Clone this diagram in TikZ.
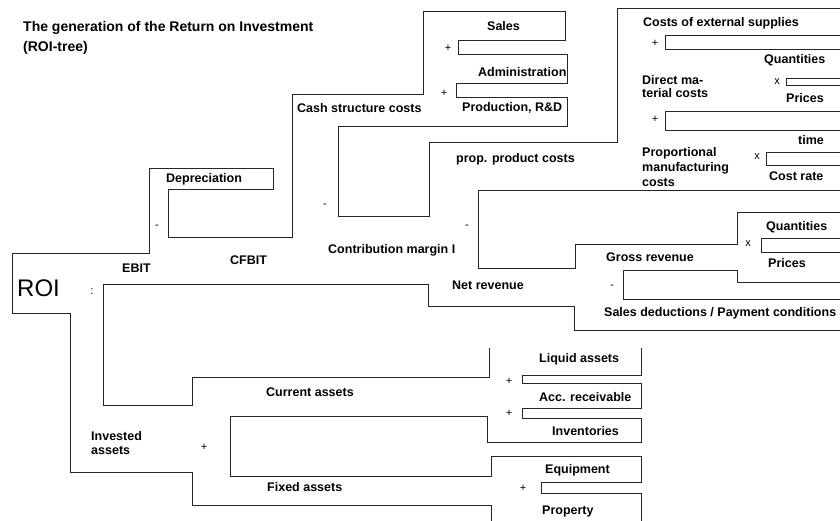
\documentclass[tikz,border=0pt]{standalone}
\usepackage{fontspec}
\setmainfont{Liberation Sans}
\begin{document}
\begin{tikzpicture}[x=1pt,y=-1pt,
  lab/.style={font=\fontsize{12.5}{14}\selectfont\bfseries, inner sep=0pt, anchor=west, text height=8.95pt, text depth=0pt},
  ttl/.style={font=\fontsize{14}{16}\selectfont\bfseries, inner sep=0pt, anchor=west, text height=10pt, text depth=0pt},
  opr/.style={font=\fontsize{11}{12}\selectfont, inner sep=0pt, anchor=center},
  tree/.style={line width=1pt, draw=black!85, line join=miter}]
\useasboundingbox (0,0) rectangle (840,520);
\clip (0,0) rectangle (840,520);
% tree outline
\draw[tree] (491,530) -- (491,505) -- (192,505) -- (192,472) -- (70,472) -- (70,313) -- (12,313) -- (12,253)
  -- (149,253) -- (149,168) -- (273,168) -- (273,189) -- (168,189) -- (168,237) -- (292,237) -- (292,94)
  -- (423,94) -- (423,11) -- (565,11) -- (565,40) -- (458,40) -- (458,54) -- (567,54) -- (567,83)
  -- (456,83) -- (456,97) -- (567,97) -- (567,126) -- (338,126) -- (338,216) -- (429,216) -- (429,142)
  -- (617,142) -- (617,8) -- (850,8) -- (850,35) -- (665,35) -- (665,49) -- (850,49)
  -- (850,78) -- (786,78) -- (786,85) -- (850,85)
  -- (850,111) -- (665,111) -- (665,130) -- (850,130)
  -- (850,152) -- (766,152) -- (766,165) -- (850,165)
  -- (850,190) -- (478,190) -- (478,268) -- (575,268) -- (575,244) -- (737,244) -- (737,212) -- (850,212)
  -- (850,238) -- (761,238) -- (761,252) -- (850,252)
  -- (850,282) -- (737,282) -- (737,270) -- (623,270) -- (623,299) -- (850,299)
  -- (850,330) -- (574,330) -- (574,306) -- (428,306) -- (428,284) -- (103,284) -- (103,405)
  -- (192,405) -- (192,377) -- (489,377) -- (489,348);
\draw[tree] (641,348) -- (641,375) -- (522,375) -- (522,383) -- (641,383) -- (641,408) -- (522,408)
  -- (522,418) -- (641,418) -- (641,442) -- (487,442) -- (487,416) -- (230,416) -- (230,476)
  -- (491,476) -- (491,456) -- (641,456) -- (641,482) -- (541,482) -- (541,493) -- (641,493) -- (641,530);
% title
\node[ttl] (t1) at (23,26) {The generation of the Return on Investment};
\node[ttl] (t2) at (23,46) {(ROI-tree)};
% ROI
\node[inner sep=0pt, anchor=west, text height=17.2pt, text depth=0pt, font=\fontsize{24}{26}\selectfont] (roi) at (17,288) {ROI};
% labels
\node[lab] (sales) at (487,26) {Sales};
\node[lab] (adm) at (478,72) {Administration};
\node[lab] (prod) at (462,107) {Production, R\&D};
\node[lab] (csc) at (297,108) {Cash structure costs};
\node[lab] (dep) at (166,178) {Depreciation};
\node[lab] (ebit) at (122,268) {EBIT};
\node[lab] (cfbit) at (230,260) {CFBIT};
\node[lab] (cm) at (328,249) {Contribution margin I};
\node[lab] (nr) at (452,285) {Net revenue};
\node[lab] (ppc) at (456,158) {prop. product costs};
\node[lab] (ces) at (643,22) {Costs of external supplies};
\node[lab] (q1) at (764,59) {Quantities};
\node[lab] (dm1) at (642,80) {Direct ma-};
\node[lab] (dm2) at (642,93) {terial costs};
\node[lab] (p1) at (786,98) {Prices};
\node[lab] (time) at (798,140) {time};
\node[lab] (pm1) at (642,152) {Proportional};
\node[lab] (pm2) at (642,167) {manufacturing};
\node[lab] (pm3) at (642,182) {costs};
\node[lab] (cr) at (769,176) {Cost rate};
\node[lab] (q2) at (766,226) {Quantities};
\node[lab] (gr) at (606,257) {Gross revenue};
\node[lab] (p2) at (768,263) {Prices};
\node[lab] (sd) at (604,312) {Sales deductions / Payment conditions};
\node[lab] (ca) at (266,392) {Current assets};
\node[lab] (la) at (539,358) {Liquid assets};
\node[lab] (ar) at (539,397) {Acc. receivable};
\node[lab] (inv) at (552,431) {Inventories};
\node[lab] (ia1) at (91,436) {Invested};
\node[lab] (ia2) at (91,450) {assets};
\node[lab] (fa) at (267,487) {Fixed assets};
\node[lab] (eq) at (545,469) {Equipment};
\node[lab] (pr) at (542,510) {Property};
% operators
\node[opr] (o1) at (448,48) {+};
\node[opr] (o2) at (444,93) {+};
\node[opr] (o3) at (157,227) {-};
\node[opr] (o4) at (92,292) {:};
\node[opr] (o5) at (325,206) {-};
\node[opr] (o6) at (467,227) {-};
\node[opr] (o7) at (655,43) {+};
\node[opr] (o8) at (777,82) {x};
\node[opr] (o9) at (655,119) {+};
\node[opr] (o10) at (757,157) {x};
\node[opr] (o11) at (748,244) {x};
\node[opr] (o12) at (612,287) {-};
\node[opr] (o13) at (509,381) {+};
\node[opr] (o14) at (509,413) {+};
\node[opr] (o15) at (204,447) {+};
\node[opr] (o16) at (523,488) {+};
\end{tikzpicture}
\end{document}
